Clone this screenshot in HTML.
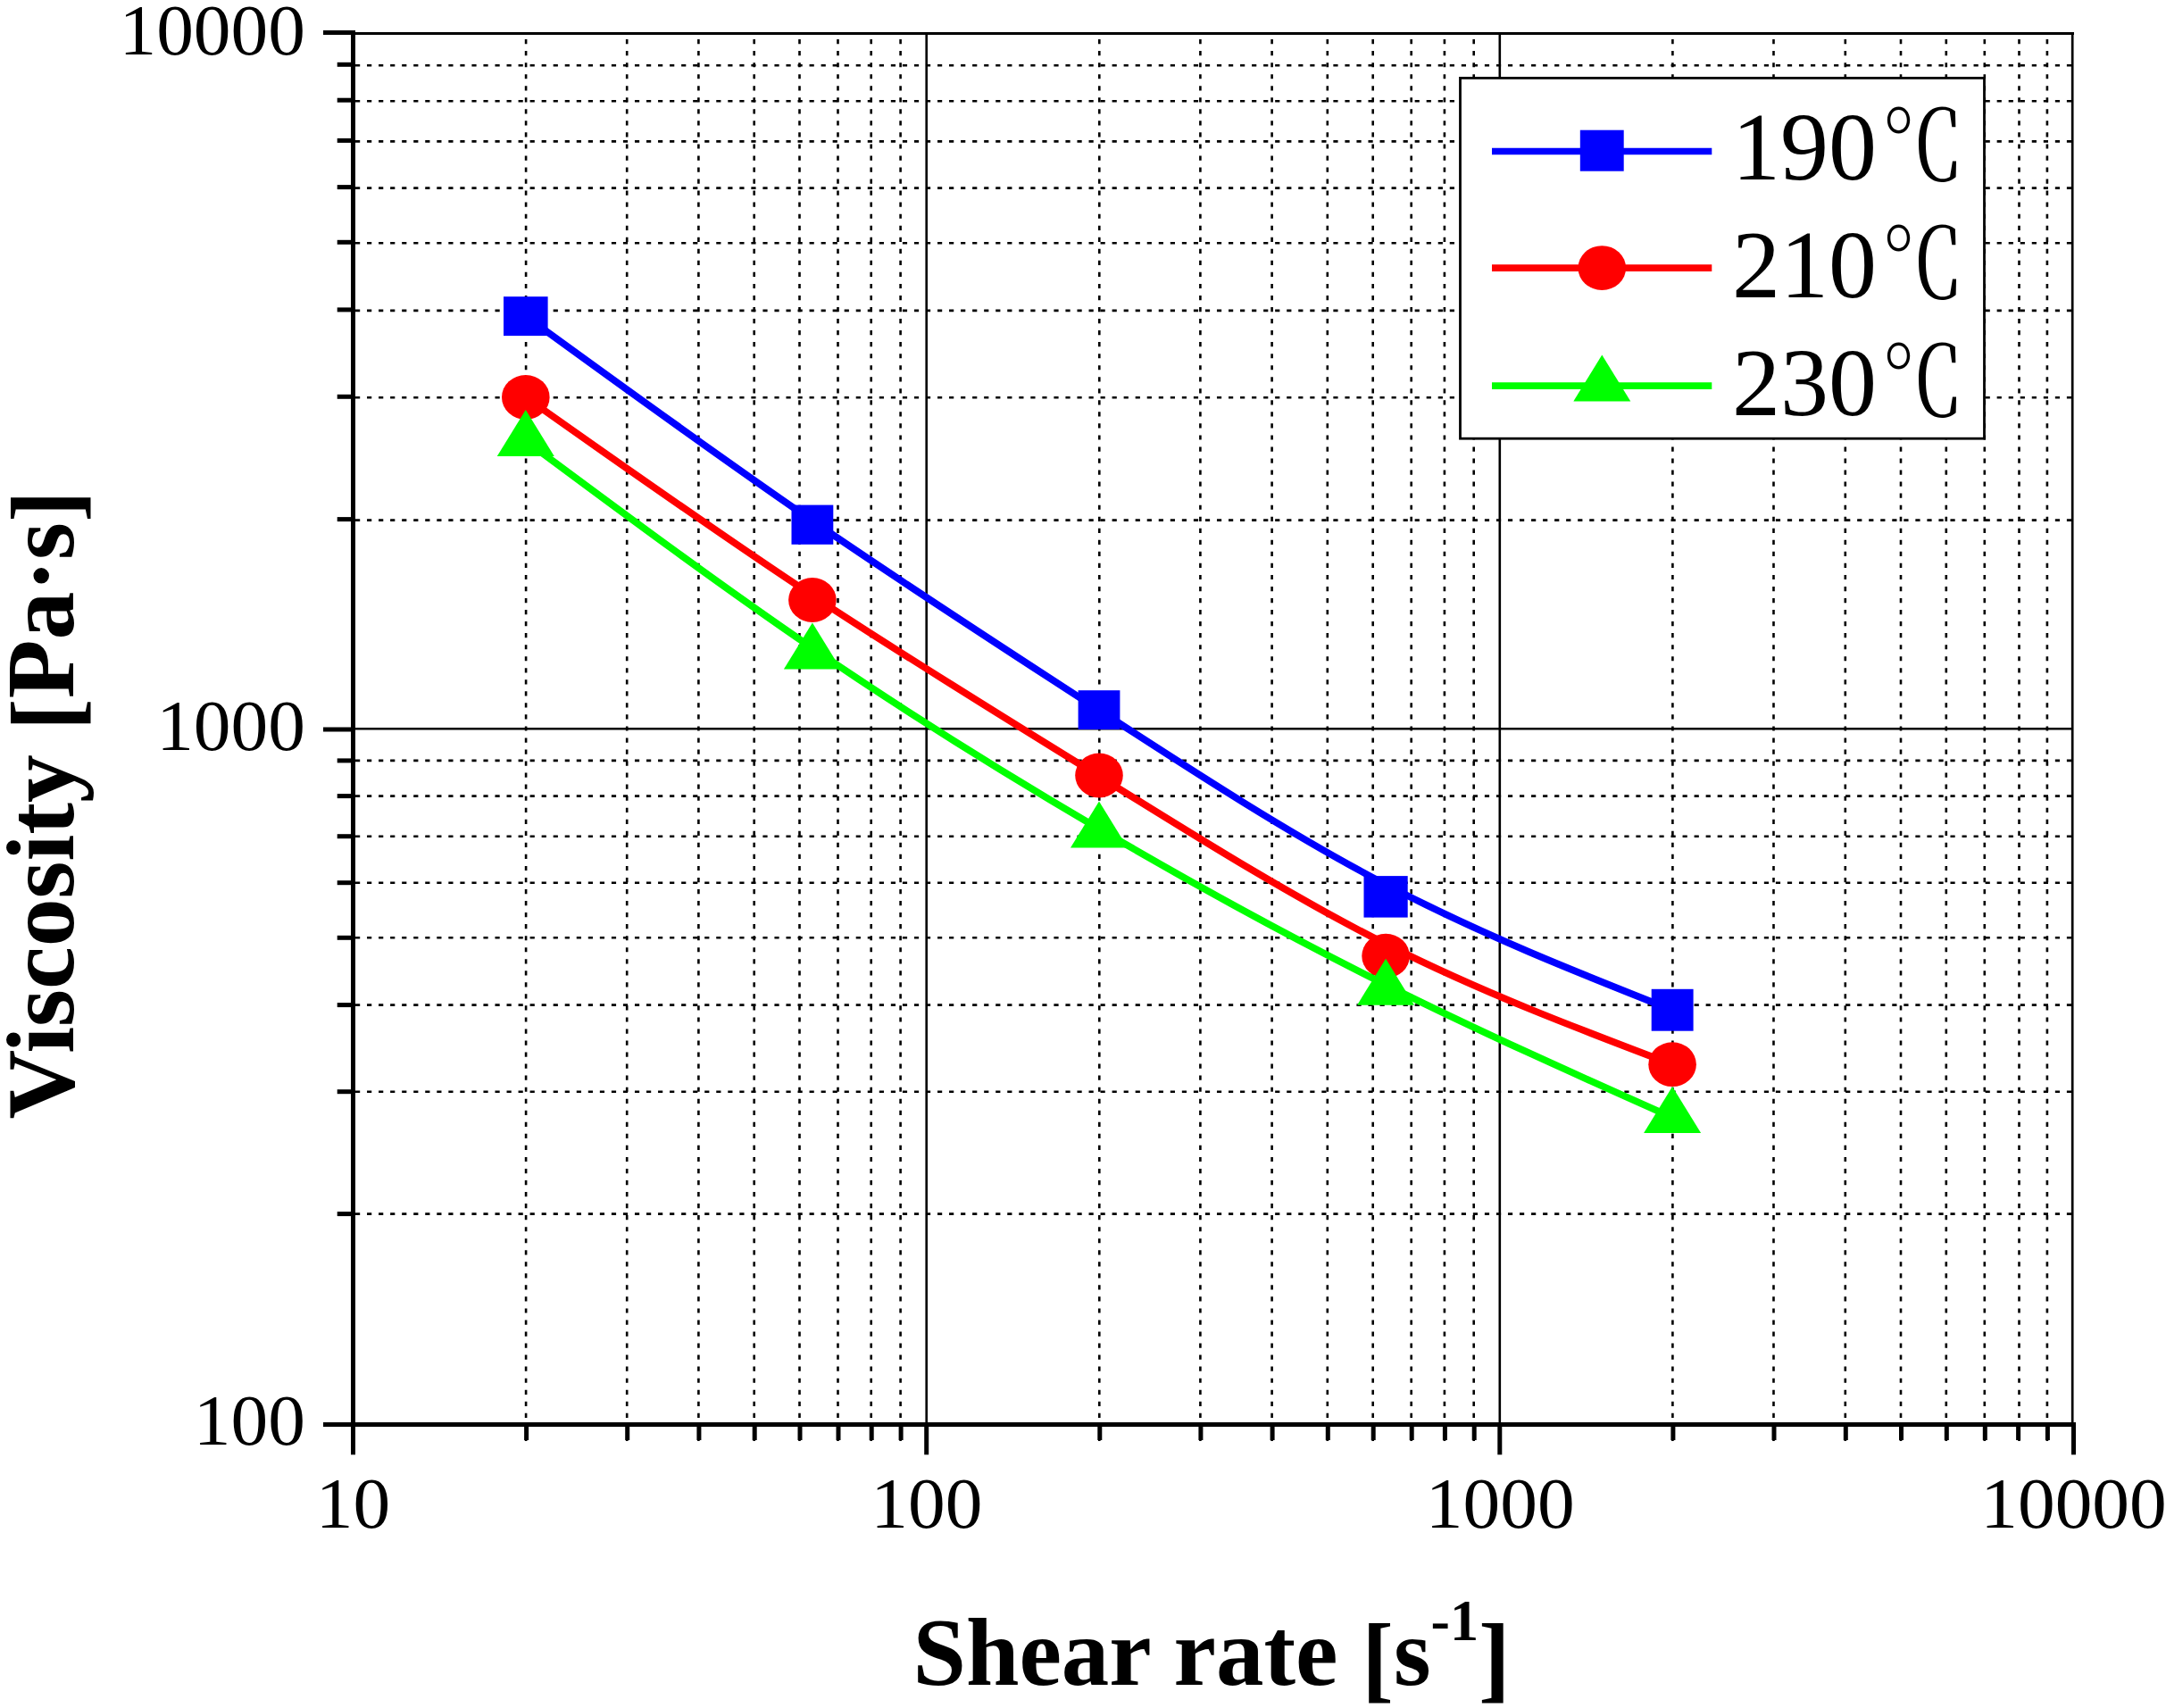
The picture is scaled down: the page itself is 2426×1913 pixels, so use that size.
<!DOCTYPE html>
<html lang="en"><head><meta charset="utf-8"><title>Viscosity vs shear rate</title>
<style>html,body{margin:0;padding:0;background:#fff}body{width:2426px;height:1913px;overflow:hidden}svg{display:block}text{font-family:"Liberation Serif","Noto Serif CJK SC",serif;fill:#000}.b{font-weight:bold}.g{stroke:#000;stroke-width:2.6;stroke-dasharray:5.2 7.84;fill:none}.s{stroke:#000;stroke-width:2.6;fill:none}.t{stroke:#000;stroke-width:5;fill:none}</style></head><body>
<svg width="2426" height="1913" viewBox="0 0 2426 1913">
<rect x="0" y="0" width="2426" height="1913" fill="#fff"/>
<g class="g">
<line x1="589.1" y1="39" x2="589.1" y2="1614" stroke-dashoffset="-5.05"/>
<line x1="702.2" y1="39" x2="702.2" y2="1614" stroke-dashoffset="-5.05"/>
<line x1="782.4" y1="39" x2="782.4" y2="1614" stroke-dashoffset="-5.05"/>
<line x1="844.7" y1="39" x2="844.7" y2="1614" stroke-dashoffset="-5.05"/>
<line x1="895.5" y1="39" x2="895.5" y2="1614" stroke-dashoffset="-5.05"/>
<line x1="938.5" y1="39" x2="938.5" y2="1614" stroke-dashoffset="-5.05"/>
<line x1="975.7" y1="39" x2="975.7" y2="1614" stroke-dashoffset="-5.05"/>
<line x1="1008.6" y1="39" x2="1008.6" y2="1614" stroke-dashoffset="-5.05"/>
<line x1="1231.3" y1="39" x2="1231.3" y2="1614" stroke-dashoffset="-5.05"/>
<line x1="1344.4" y1="39" x2="1344.4" y2="1614" stroke-dashoffset="-5.05"/>
<line x1="1424.6" y1="39" x2="1424.6" y2="1614" stroke-dashoffset="-5.05"/>
<line x1="1486.8" y1="39" x2="1486.8" y2="1614" stroke-dashoffset="-5.05"/>
<line x1="1537.7" y1="39" x2="1537.7" y2="1614" stroke-dashoffset="-5.05"/>
<line x1="1580.7" y1="39" x2="1580.7" y2="1614" stroke-dashoffset="-5.05"/>
<line x1="1617.9" y1="39" x2="1617.9" y2="1614" stroke-dashoffset="-5.05"/>
<line x1="1650.7" y1="39" x2="1650.7" y2="1614" stroke-dashoffset="-5.05"/>
<line x1="1873.4" y1="39" x2="1873.4" y2="1614" stroke-dashoffset="-5.05"/>
<line x1="1986.5" y1="39" x2="1986.5" y2="1614" stroke-dashoffset="-5.05"/>
<line x1="2066.8" y1="39" x2="2066.8" y2="1614" stroke-dashoffset="-5.05"/>
<line x1="2129.0" y1="39" x2="2129.0" y2="1614" stroke-dashoffset="-5.05"/>
<line x1="2179.8" y1="39" x2="2179.8" y2="1614" stroke-dashoffset="-5.05"/>
<line x1="2222.8" y1="39" x2="2222.8" y2="1614" stroke-dashoffset="-5.05"/>
<line x1="2261.5" y1="39" x2="2261.5" y2="1614" stroke-dashoffset="-5.05"/>
<line x1="2292.9" y1="39" x2="2292.9" y2="1614" stroke-dashoffset="-5.05"/>
<line x1="398" y1="1359.6" x2="2320" y2="1359.6" stroke-dashoffset="0"/>
<line x1="398" y1="1222.7" x2="2320" y2="1222.7" stroke-dashoffset="0"/>
<line x1="398" y1="1125.6" x2="2320" y2="1125.6" stroke-dashoffset="0"/>
<line x1="398" y1="1050.3" x2="2320" y2="1050.3" stroke-dashoffset="0"/>
<line x1="398" y1="988.7" x2="2320" y2="988.7" stroke-dashoffset="0"/>
<line x1="398" y1="936.7" x2="2320" y2="936.7" stroke-dashoffset="0"/>
<line x1="398" y1="891.6" x2="2320" y2="891.6" stroke-dashoffset="0"/>
<line x1="398" y1="851.9" x2="2320" y2="851.9" stroke-dashoffset="0"/>
<line x1="398" y1="582.6" x2="2320" y2="582.6" stroke-dashoffset="0"/>
<line x1="398" y1="445.3" x2="2320" y2="445.3" stroke-dashoffset="0"/>
<line x1="398" y1="347.9" x2="2320" y2="347.9" stroke-dashoffset="0"/>
<line x1="398" y1="272.3" x2="2320" y2="272.3" stroke-dashoffset="0"/>
<line x1="398" y1="210.6" x2="2320" y2="210.6" stroke-dashoffset="0"/>
<line x1="398" y1="158.4" x2="2320" y2="158.4" stroke-dashoffset="0"/>
<line x1="398" y1="113.2" x2="2320" y2="113.2" stroke-dashoffset="0"/>
<line x1="398" y1="73.3" x2="2320" y2="73.3" stroke-dashoffset="0"/>
</g>
<g class="s">
<line x1="1037.7" y1="38" x2="1037.7" y2="1594"/>
<line x1="1679.8" y1="38" x2="1679.8" y2="1594"/>
<line x1="397" y1="816.3" x2="2321" y2="816.3"/>
<line x1="397" y1="37.5" x2="2323" y2="37.5" stroke-width="3"/>
<line x1="2321.2" y1="36" x2="2321.2" y2="1594" stroke-width="2.7"/>
</g>
<g class="t">
<line x1="395.5" y1="34" x2="395.5" y2="1598"/>
<line x1="393" y1="1595.5" x2="2325" y2="1595.5"/>
<line x1="362" y1="1595.5" x2="396" y2="1595.5"/>
<line x1="362" y1="816.9" x2="396" y2="816.9"/>
<line x1="362" y1="36.5" x2="396" y2="36.5"/>
<line x1="395.5" y1="1595" x2="395.5" y2="1629.3"/>
<line x1="1037.7" y1="1595" x2="1037.7" y2="1629.3"/>
<line x1="1679.8" y1="1595" x2="1679.8" y2="1629.3"/>
<line x1="2322.5" y1="1595" x2="2322.5" y2="1629.3"/>
<line x1="377.7" y1="1359.6" x2="396" y2="1359.6"/>
<line x1="377.7" y1="1222.7" x2="396" y2="1222.7"/>
<line x1="377.7" y1="1125.6" x2="396" y2="1125.6"/>
<line x1="377.7" y1="1050.3" x2="396" y2="1050.3"/>
<line x1="377.7" y1="988.7" x2="396" y2="988.7"/>
<line x1="377.7" y1="936.7" x2="396" y2="936.7"/>
<line x1="377.7" y1="891.6" x2="396" y2="891.6"/>
<line x1="377.7" y1="851.9" x2="396" y2="851.9"/>
<line x1="377.7" y1="581.6" x2="396" y2="581.6"/>
<line x1="377.7" y1="444.3" x2="396" y2="444.3"/>
<line x1="377.7" y1="346.9" x2="396" y2="346.9"/>
<line x1="377.7" y1="271.3" x2="396" y2="271.3"/>
<line x1="377.7" y1="209.6" x2="396" y2="209.6"/>
<line x1="377.7" y1="157.4" x2="396" y2="157.4"/>
<line x1="377.7" y1="112.2" x2="396" y2="112.2"/>
<line x1="377.7" y1="72.3" x2="396" y2="72.3"/>
<line x1="589.6" y1="1595" x2="589.6" y2="1613"/>
<line x1="702.7" y1="1595" x2="702.7" y2="1613"/>
<line x1="782.9" y1="1595" x2="782.9" y2="1613"/>
<line x1="845.2" y1="1595" x2="845.2" y2="1613"/>
<line x1="896.0" y1="1595" x2="896.0" y2="1613"/>
<line x1="939.0" y1="1595" x2="939.0" y2="1613"/>
<line x1="976.2" y1="1595" x2="976.2" y2="1613"/>
<line x1="1009.1" y1="1595" x2="1009.1" y2="1613"/>
<line x1="1231.8" y1="1595" x2="1231.8" y2="1613"/>
<line x1="1344.9" y1="1595" x2="1344.9" y2="1613"/>
<line x1="1425.1" y1="1595" x2="1425.1" y2="1613"/>
<line x1="1487.3" y1="1595" x2="1487.3" y2="1613"/>
<line x1="1538.2" y1="1595" x2="1538.2" y2="1613"/>
<line x1="1581.2" y1="1595" x2="1581.2" y2="1613"/>
<line x1="1618.4" y1="1595" x2="1618.4" y2="1613"/>
<line x1="1651.2" y1="1595" x2="1651.2" y2="1613"/>
<line x1="1873.9" y1="1595" x2="1873.9" y2="1613"/>
<line x1="1987.0" y1="1595" x2="1987.0" y2="1613"/>
<line x1="2067.3" y1="1595" x2="2067.3" y2="1613"/>
<line x1="2129.5" y1="1595" x2="2129.5" y2="1613"/>
<line x1="2180.3" y1="1595" x2="2180.3" y2="1613"/>
<line x1="2223.3" y1="1595" x2="2223.3" y2="1613"/>
<line x1="2260.6" y1="1595" x2="2260.6" y2="1613"/>
<line x1="2293.4" y1="1595" x2="2293.4" y2="1613"/>
</g>
<path d="M588.8 354.1 C695.8 432.0 802.9 509.8 909.9 583.3 C1016.9 656.8 1124.0 726.0 1231.0 795.4 C1338.0 864.9 1445.0 934.6 1552.1 990.6 C1659.1 1046.7 1766.1 1088.9 1873.1 1131.2" fill="none" stroke="#0000ff" stroke-width="7.8"/>
<rect x="564.0" y="332.2" width="49.6" height="43.9" fill="#0000ff"/>
<rect x="886.5" y="565.6" width="46.8" height="44.2" fill="#0000ff"/>
<rect x="1207.6" y="773.2" width="46.8" height="43.8" fill="#0000ff"/>
<rect x="1527.5" y="981.1" width="49.2" height="46.5" fill="#0000ff"/>
<rect x="1849.7" y="1107.8" width="46.9" height="46.9" fill="#0000ff"/>
<path d="M588.8 444.9 C695.8 520.6 802.9 596.3 909.9 666.9 C1016.9 737.5 1124.0 803.0 1231.0 869.4 C1338.0 935.9 1445.0 1003.3 1552.1 1057.2 C1659.1 1111.2 1766.1 1151.7 1873.1 1192.2" fill="none" stroke="#ff0000" stroke-width="7.8"/>
<ellipse cx="588.8" cy="444.9" rx="26.8" ry="24.9" fill="#ff0000"/>
<ellipse cx="909.9" cy="672.0" rx="26.8" ry="24.9" fill="#ff0000"/>
<ellipse cx="1231.0" cy="868.5" rx="26.8" ry="24.9" fill="#ff0000"/>
<ellipse cx="1552.1" cy="1070.7" rx="26.8" ry="24.9" fill="#ff0000"/>
<ellipse cx="1873.1" cy="1192.2" rx="26.8" ry="24.9" fill="#ff0000"/>
<path d="M588.8 493.7 C695.8 573.2 802.9 652.8 909.9 725.9 C1016.9 799.0 1124.0 865.6 1231.0 928.3 C1338.0 991.0 1445.0 1049.7 1552.1 1102.9 C1659.1 1156.1 1766.1 1203.9 1873.1 1251.6" fill="none" stroke="#00ff00" stroke-width="7.8"/>
<polygon points="588.8,459.0 620.8,511.0 556.8,511.0" fill="#00ff00"/>
<polygon points="909.9,697.6 941.9,749.6 877.9,749.6" fill="#00ff00"/>
<polygon points="1231.0,897.6 1263.0,949.6 1199.0,949.6" fill="#00ff00"/>
<polygon points="1552.1,1073.7 1584.1,1125.7 1520.1,1125.7" fill="#00ff00"/>
<polygon points="1873.1,1216.9 1905.1,1268.9 1841.1,1268.9" fill="#00ff00"/>
<rect x="1635.5" y="87.4" width="587" height="403.8" fill="#fff" stroke="#000" stroke-width="2.8"/>
<line x1="1671" y1="169.5" x2="1917.3" y2="169.5" stroke="#0000ff" stroke-width="7.6"/>
<rect x="1769.8" y="145.7" width="48.9" height="46.0" fill="#0000ff"/>
<line x1="1671" y1="300.1" x2="1917.3" y2="300.1" stroke="#ff0000" stroke-width="7.6"/>
<ellipse cx="1794.3" cy="300.1" rx="26.8" ry="24.9" fill="#ff0000"/>
<line x1="1671" y1="432.1" x2="1917.3" y2="432.1" stroke="#00ff00" stroke-width="7.6"/>
<polygon points="1794.3,397.4 1826.3,449.4 1762.3,449.4" fill="#00ff00"/>
<text id="leg0" transform="translate(1940 201.2)" font-size="108">190</text>
<text id="deg0" transform="translate(2107 202.0) scale(0.86 1)" font-size="108">℃</text>
<text id="leg1" transform="translate(1940 333.2)" font-size="108">210</text>
<text id="deg1" transform="translate(2107 334.0) scale(0.86 1)" font-size="108">℃</text>
<text id="leg2" transform="translate(1940 465.3)" font-size="108">230</text>
<text id="deg2" transform="translate(2107 466.1) scale(0.86 1)" font-size="108">℃</text>
<text id="yl0" transform="translate(342 61.0) scale(1.0300 1)" font-size="81" text-anchor="end">10000</text>
<text id="yl1" transform="translate(342 839.6) scale(1.0300 1)" font-size="81" text-anchor="end">1000</text>
<text id="yl2" transform="translate(342 1618.0) scale(1.0300 1)" font-size="81" text-anchor="end">100</text>
<text id="xl0" transform="translate(395.5 1711.2) scale(1.0300 1)" font-size="81" text-anchor="middle">10</text>
<text id="xl1" transform="translate(1037.8 1711.2) scale(1.0300 1)" font-size="81" text-anchor="middle">100</text>
<text id="xl2" transform="translate(1680.2 1711.2) scale(1.0300 1)" font-size="81" text-anchor="middle">1000</text>
<text id="xl3" transform="translate(2322.5 1711.2) scale(1.0300 1)" font-size="81" text-anchor="middle">10000</text>
<text id="yt" class="b" transform="translate(81.5 1253.5) rotate(-90)" font-size="107.6">Viscosity <tspan dy="5">[</tspan><tspan dy="-5">Pa·s</tspan><tspan dy="5">]</tspan></text>
<text id="xt" class="b" transform="translate(1022.5 1887.3) scale(0.99 1)" font-size="108">Shear rate <tspan dy="6">[</tspan><tspan dy="-6">s</tspan><tspan font-size="65" dy="-50">-1</tspan><tspan dy="56">]</tspan></text>
</svg></body></html>
